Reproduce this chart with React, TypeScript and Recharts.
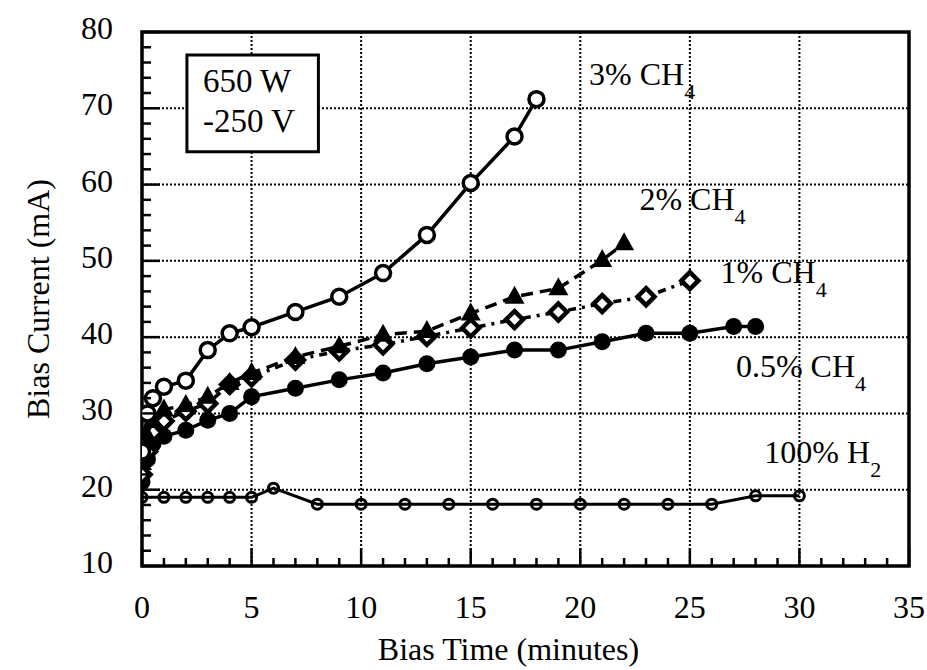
import { ComposedChart, Line, XAxis, YAxis, CartesianGrid, ReferenceArea, ReferenceDot, Label } from "recharts";

const FONT = "'Liberation Serif', 'Times New Roman', serif";

// 3% CH4 (open circles)
const t3 = [0, 0.25, 0.5, 1, 2, 3, 4, 5, 7, 9, 11, 13, 15, 17, 18];
const v3 = [25, 30, 32, 33.5, 34.3, 38.3, 40.5, 41.3, 43.3, 45.3, 48.4, 53.4, 60.2, 66.3, 71.2];

// 2% CH4 (filled triangles)
const t2 = [0, 0.25, 0.5, 1, 2, 3, 4, 5, 7, 9, 11, 13, 15, 17, 19, 21, 22];
const v2 = [23.5, 27, 29, 30.5, 31.1, 32.2, 34, 35.3, 37.4, 38.8, 40.3, 40.8, 43.1, 45.3, 46.4, 50.1, 52.3];

// 1% CH4 (open diamonds)
const t1 = [0, 0.25, 0.5, 1, 2, 3, 4, 5, 7, 9, 11, 13, 15, 17, 19, 21, 23, 25];
const v1 = [22, 25, 27.5, 29, 30.3, 31.3, 33.8, 34.8, 37, 38.2, 39, 40.1, 41.2, 42.3, 43.3, 44.4, 45.3, 47.4];

// 0.5% CH4 (filled circles)
const t05 = [0, 0.25, 0.5, 1, 2, 3, 4, 5, 7, 9, 11, 13, 15, 17, 19, 21, 23, 25, 27, 28];
const v05 = [21, 24, 26, 27, 27.8, 29.1, 30, 32.2, 33.3, 34.4, 35.3, 36.5, 37.4, 38.3, 38.3, 39.4, 40.5, 40.5, 41.4, 41.4];

// 100% H2 (small open circles)
const tH = [0, 1, 2, 3, 4, 5, 6, 8, 10, 12, 14, 16, 18, 20, 22, 24, 26, 28, 30];
const vH = [19, 19, 19, 19, 19, 19, 20.2, 18.1, 18.1, 18.1, 18.1, 18.1, 18.1, 18.1, 18.1, 18.1, 18.1, 19.2, 19.2];

const xTicks = [0, 1, 2, 3, 4, 5, 6, 7, 8, 9, 10, 11, 12, 13, 14, 15, 16, 17, 18, 19, 20, 21, 22, 23, 24, 25, 26, 27, 28, 29, 30, 31, 32, 33, 34, 35];
const yTicks = [10, 12, 14, 16, 18, 20, 22, 24, 26, 28, 30, 32, 34, 36, 38, 40, 42, 44, 46, 48, 50, 52, 54, 56, 58, 60, 62, 64, 66, 68, 70, 72, 74, 76, 78, 80];
const gridX = [5, 10, 15, 20, 25, 30];
const gridY = [20, 30, 40, 50, 60, 70];

const labelText = ["3% CH", "2% CH", "1% CH", "0.5% CH", "100% H"];
const labelSub = ["4", "4", "4", "4", "2"];
const labelT = [20.4, 22.7, 26.4, 27.1, 28.4];
const labelV = [73.0, 56.7, 47.1, 34.8, 23.5];

const boxLines = ["650 W", "-250 V"];
const boxT = [2.05, 8.05];
const boxV = [64.3, 77.0];

const toRows = (t: number[], v: number[]) => t.map((x, i) => ({ t: x, v: v[i] }));

const XTick = (props: any) => {
  const { x, y, payload } = props;
  const major = payload.value % 5 === 0;
  return (
    <g>
      <line x1={x} x2={x} y1={y} y2={y - (major ? 18 : 8)} stroke="#000" strokeWidth={2.5} />
      {major && (
        <text x={x} y={y + 52} textAnchor="middle" fontSize={32} fontFamily={FONT} fill="#000">
          {payload.value}
        </text>
      )}
    </g>
  );
};

const YTick = (props: any) => {
  const { x, y, payload } = props;
  const major = payload.value % 10 === 0;
  return (
    <g>
      <line x1={x} x2={x + (major ? 18 : 9)} y1={y} y2={y} stroke="#000" strokeWidth={2.5} />
      {major && (
        <text x={x - 29} y={y + 7} textAnchor="end" fontSize={32} fontFamily={FONT} fill="#000">
          {payload.value}
        </text>
      )}
    </g>
  );
};

const OpenCircle = (p: any) => (
  <circle key={p.index} cx={p.cx} cy={p.cy} r={7.5} fill="#fff" stroke="#000" strokeWidth={3.5} />
);
const FilledCircle = (p: any) => <circle key={p.index} cx={p.cx} cy={p.cy} r={8.5} fill="#000" />;
const Triangle = (p: any) => (
  <polygon
    key={p.index}
    points={`${p.cx},${p.cy - 11} ${p.cx - 10},${p.cy + 7} ${p.cx + 10},${p.cy + 7}`}
    fill="#000"
  />
);
const Diamond = (p: any) => (
  <polygon
    key={p.index}
    points={`${p.cx},${p.cy - 8.5} ${p.cx + 8.5},${p.cy} ${p.cx},${p.cy + 8.5} ${p.cx - 8.5},${p.cy}`}
    fill="#fff"
    stroke="#000"
    strokeWidth={4.5}
    strokeLinejoin="miter"
  />
);
const SmallCircle = (p: any) => (
  <circle key={p.index} cx={p.cx} cy={p.cy} r={5} fill="none" stroke="#000" strokeWidth={3} />
);

const yTitle = (p: any) => {
  const vb = p.viewBox;
  const cx = 38;
  const cy = vb.y + vb.height / 2;
  return (
    <text x={cx} y={cy} transform={`rotate(-90 ${cx} ${cy})`} textAnchor="middle" dominantBaseline="central"
      fontSize={32} fontFamily={FONT} fill="#000">
      Bias Current (mA)
    </text>
  );
};

const xTitle = (p: any) => {
  const vb = p.viewBox;
  return (
    <text x={vb.x + vb.width / 2 - 17} y={vb.y + 94} textAnchor="middle" fontSize={32} fontFamily={FONT} fill="#000">
      Bias Time (minutes)
    </text>
  );
};

const boxLabel = (p: any) => {
  const vb = p.viewBox;
  return (
    <g>
      {boxLines.map((s, i) => (
        <text key={i} x={vb.x + 16} y={vb.y + 37 + i * 40} fontSize={33} fontFamily={FONT} fill="#000">
          {s}
        </text>
      ))}
    </g>
  );
};

export default function App() {
  return (
    <div style={{ position: "absolute", left: 0, top: 0, width: 927, height: 670, background: "#fff" }}>
      <ComposedChart width={927} height={670} margin={{ top: 32, right: 18, left: 0, bottom: 0 }}>
        <CartesianGrid stroke="#000" strokeWidth={2} strokeDasharray="2 2"
          verticalValues={gridX} horizontalValues={gridY} />
        <XAxis type="number" dataKey="t" domain={[0, 35]} ticks={xTicks} interval={0} height={104}
          tick={<XTick />} tickSize={0} tickMargin={0} axisLine={false} tickLine={false} allowDataOverflow>
          <Label content={xTitle} />
        </XAxis>
        <YAxis type="number" dataKey="v" domain={[10, 80]} ticks={yTicks} interval={0} width={142}
          tick={<YTick />} tickSize={0} tickMargin={0} axisLine={false} tickLine={false} allowDataOverflow>
          <Label content={yTitle} />
        </YAxis>
        <ReferenceArea x1={boxT[0]} x2={boxT[1]} y1={boxV[0]} y2={boxV[1]} fill="#fff" fillOpacity={1}
          stroke="#000" strokeWidth={3} ifOverflow="visible" label={{ content: boxLabel }} />
        <ReferenceArea x1={0} x2={35} y1={10} y2={80} fill="none" stroke="#000" strokeWidth={3.5} ifOverflow="visible" />
        <Line data={toRows(tH, vH)} dataKey="v" stroke="#000" strokeWidth={3} dot={SmallCircle}
          isAnimationActive={false} />
        <Line data={toRows(t05, v05)} dataKey="v" stroke="#000" strokeWidth={3.5} dot={FilledCircle}
          isAnimationActive={false} />
        <Line data={toRows(t1, v1)} dataKey="v" stroke="#000" strokeWidth={3.5} strokeDasharray="8 6 3 6"
          dot={Diamond} isAnimationActive={false} />
        <Line data={toRows(t2, v2)} dataKey="v" stroke="#000" strokeWidth={3.5} strokeDasharray="12 7"
          dot={Triangle} isAnimationActive={false} />
        <Line data={toRows(t3, v3)} dataKey="v" stroke="#000" strokeWidth={3.5} dot={OpenCircle}
          isAnimationActive={false} />
        {labelT.map((t, i) => (
          <ReferenceDot key={i} x={t} y={labelV[i]} r={0} ifOverflow="visible"
            shape={(p: any) => (
              <text x={p.cx} y={p.cy} fontSize={32} fontFamily={FONT} fill="#000">
                {labelText[i]}
                <tspan dy={14} fontSize={22}>{labelSub[i]}</tspan>
              </text>
            )} />
        ))}
      </ComposedChart>
    </div>
  );
}
